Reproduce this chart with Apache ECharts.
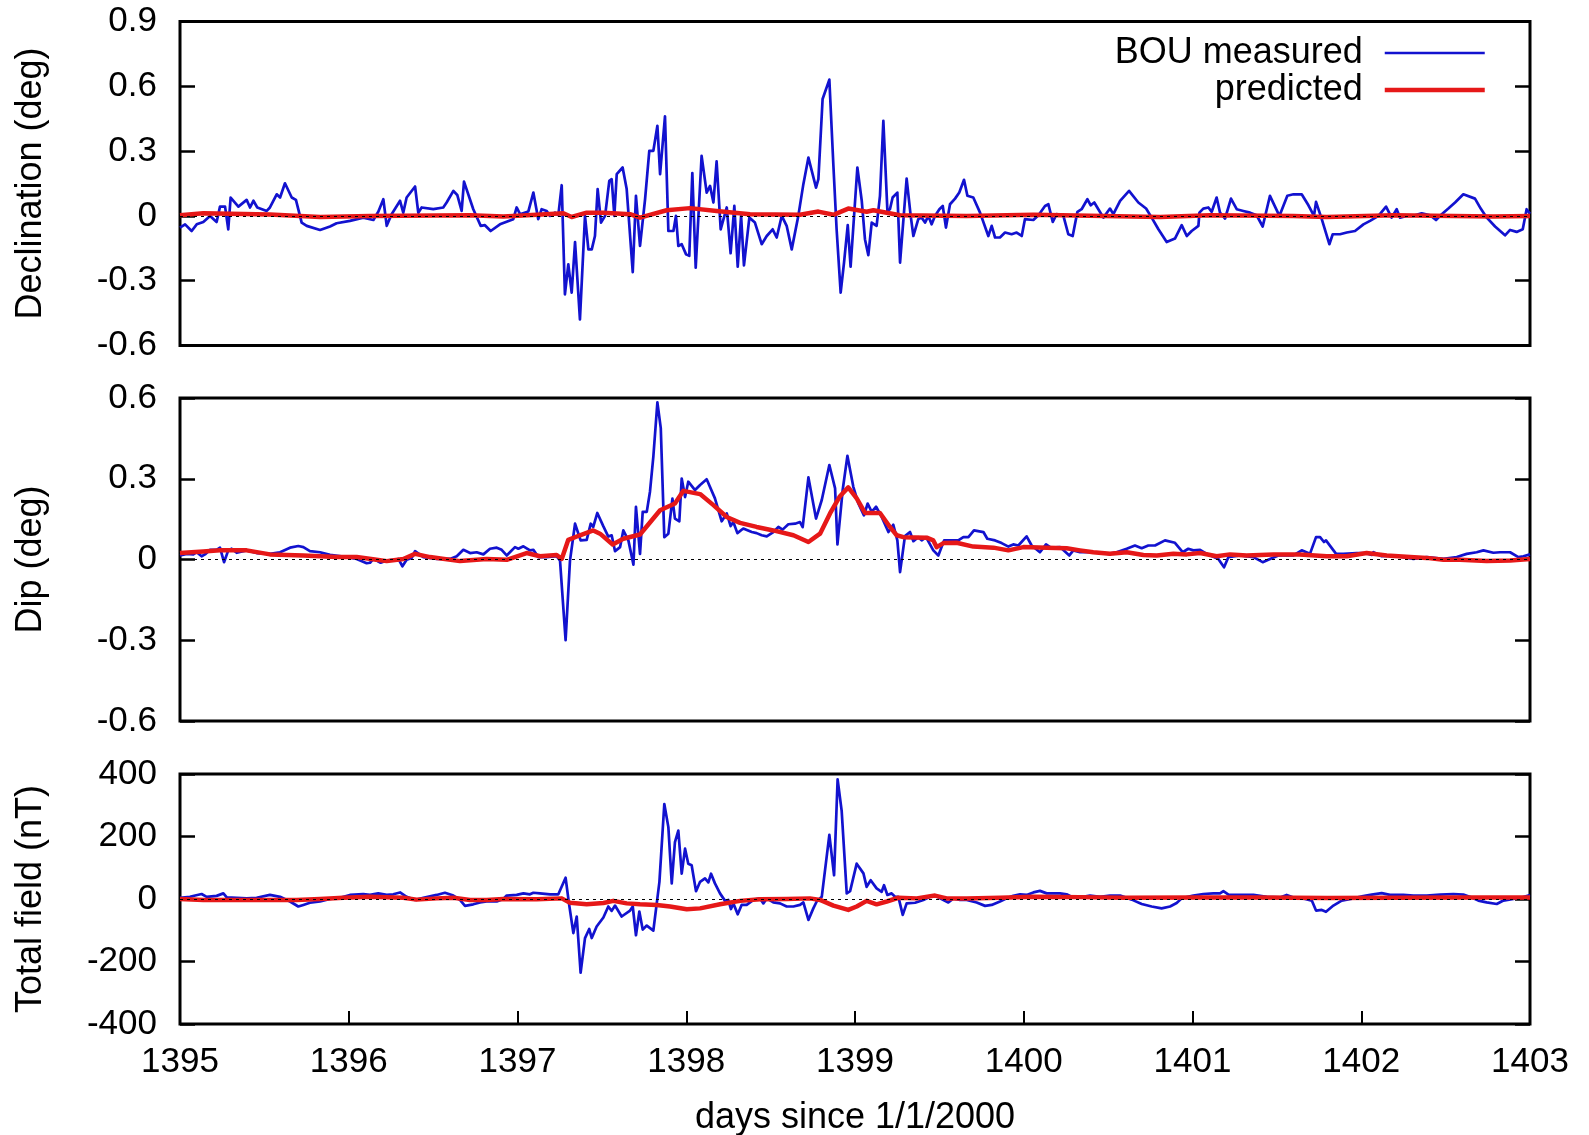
<!DOCTYPE html>
<html><head><meta charset="utf-8">
<script src="https://cdn.jsdelivr.net/npm/echarts@6/dist/echarts.min.js"></script>
<style>html,body{margin:0;padding:0;background:#fff}#chart{width:1589px;height:1135px}</style>
</head><body><div id="chart"></div>
<script>
// ---------- tick labels ----------
const dayTicks = [1395,1396,1397,1398,1399,1400,1401,1402,1403];
const declTicks = [-0.6,-0.3,0,0.3,0.6,0.9];
const dipTicks = [-0.6,-0.3,0,0.3,0.6];
const totalTicks = [-400,-200,0,200,400];

// ---------- names ----------
const seriesNames = ['BOU measured','predicted'];
const panelTitles = ['Declination (deg)','Dip (deg)','Total field (nT)'];
const xTitle = 'days since 1/1/2000';

// ---------- data: [day, value] ----------
const declMeasured = [[1395.000,-0.054],[1395.030,-0.039],[1395.069,-0.070],[1395.099,-0.039],[1395.138,-0.028],[1395.178,0],[1395.217,-0.028],[1395.237,0.043],[1395.267,0.043],[1395.286,-0.062],[1395.300,0.085],[1395.346,0.043],[1395.395,0.074],[1395.415,0.039],[1395.435,0.070],[1395.458,0.039],[1395.514,0.023],[1395.533,0.039],[1395.573,0.100],[1395.593,0.085],[1395.622,0.151],[1395.662,0.085],[1395.687,0.074],[1395.721,-0.031],[1395.751,-0.046],[1395.830,-0.065],[1395.889,-0.049],[1395.928,-0.034],[1396.007,-0.023],[1396.086,-0.008],[1396.146,-0.019],[1396.175,0.019],[1396.205,0.077],[1396.225,-0.046],[1396.254,0.008],[1396.304,0.070],[1396.323,0.015],[1396.343,0.085],[1396.393,0.136],[1396.412,0.015],[1396.432,0.039],[1396.501,0.031],[1396.560,0.039],[1396.580,0.062],[1396.620,0.116],[1396.643,0.097],[1396.669,0.023],[1396.683,0.159],[1396.738,0.031],[1396.782,-0.046],[1396.807,-0.043],[1396.841,-0.070],[1396.896,-0.039],[1396.975,-0.015],[1396.995,0.039],[1397.015,0.008],[1397.064,0.020],[1397.094,0.108],[1397.123,-0.015],[1397.143,0.031],[1397.173,0.023],[1397.193,0],[1397.222,0.015],[1397.242,0.003],[1397.262,0.142],[1397.281,-0.363],[1397.301,-0.224],[1397.321,-0.355],[1397.341,-0.121],[1397.370,-0.479],[1397.400,0],[1397.420,-0.155],[1397.440,-0.155],[1397.459,-0.093],[1397.475,0.124],[1397.495,-0.031],[1397.519,0],[1397.544,0.162],[1397.558,0.170],[1397.574,0],[1397.588,0.193],[1397.623,0.224],
[1397.647,0.124],[1397.683,-0.260],[1397.702,0.093],[1397.726,-0.139],[1397.756,0.077],[1397.781,0.301],[1397.805,0.301],[1397.829,0.417],[1397.845,0.193],[1397.874,0.461],[1397.894,-0.070],[1397.924,-0.070],[1397.939,0],[1397.953,-0.139],[1397.973,-0.131],[1397.999,-0.178],[1398.018,-0.185],[1398.036,0.198],[1398.056,-0.240],[1398.091,0.278],[1398.121,0.108],[1398.141,0.139],[1398.161,0.062],[1398.180,0.252],[1398.204,-0.062],[1398.240,0.039],[1398.263,-0.173],[1398.285,0.046],[1398.305,-0.235],[1398.325,0],[1398.342,-0.229],[1398.374,-0.008],[1398.407,-0.031],[1398.447,-0.131],[1398.477,-0.093],[1398.512,-0.062],[1398.536,-0.100],[1398.566,0],[1398.595,-0.046],[1398.625,-0.155],[1398.664,0],[1398.694,0.147],[1398.724,0.270],[1398.769,0.131],[1398.783,0.170],[1398.808,0.541],[1398.848,0.631],[1398.872,0.232],[1398.891,-0.062],[1398.915,-0.355],[1398.935,-0.216],[1398.957,-0.043],[1398.974,-0.235],[1399.014,0.224],[1399.040,0.070],[1399.059,-0.108],[1399.079,-0.182],[1399.099,-0.031],[1399.128,-0.046],[1399.148,0.093],[1399.168,0.440],[1399.192,0.023],[1399.207,0.031],[1399.223,0.085],[1399.251,0.108],[1399.267,-0.216],[1399.306,0.173],[1399.330,0],[1399.346,-0.093],[1399.375,-0.015],[1399.395,-0.008],[1399.415,-0.031],[1399.435,0],[1399.454,-0.039],[1399.474,0],[1399.500,0.031],[1399.520,0.046],[1399.539,-0.054],[1399.563,0.054],[1399.593,0.080],[1399.618,0.108],[1399.646,0.167],[1399.666,0.093],[1399.701,0.085],[1399.741,0.015],[1399.790,-0.093],[1399.810,-0.046],[1399.830,-0.100],[1399.859,-0.100],[1399.889,-0.077],[1399.928,-0.085],[1399.958,-0.077],[1399.988,-0.093],[1400.007,-0.015],[1400.057,-0.019],[1400.087,0.003],[1400.126,0.046],[1400.146,0.054],[1400.172,-0.028],[1400.195,0.008],[1400.235,0],[1400.264,-0.085],[1400.290,-0.093],[1400.318,0.019],
[1400.343,0.031],[1400.377,0.077],[1400.397,0.049],[1400.418,0.062],[1400.442,0.031],[1400.472,-0.008],[1400.511,0.034],[1400.531,0.008],[1400.571,0.070],[1400.624,0.116],[1400.679,0.062],[1400.725,0.034],[1400.758,-0.008],[1400.798,-0.062],[1400.847,-0.121],[1400.896,-0.105],[1400.936,-0.043],[1400.966,-0.093],[1400.995,-0.070],[1401.035,-0.046],[1401.041,0.015],[1401.064,0.034],[1401.094,0.039],[1401.114,0.019],[1401.143,0.085],[1401.163,0.015],[1401.193,-0.012],[1401.228,0.080],[1401.262,0.031],[1401.301,0.023],[1401.341,0.015],[1401.380,0.003],[1401.416,-0.049],[1401.459,0.093],[1401.515,0],[1401.562,0.093],[1401.598,0.100],[1401.647,0.100],[1401.687,0.049],[1401.720,0],[1401.732,0.065],[1401.766,-0.015],[1401.811,-0.131],[1401.831,-0.085],[1401.874,-0.085],[1401.914,-0.077],[1401.963,-0.070],[1402.013,-0.039],[1402.052,-0.023],[1402.102,0],[1402.147,0.043],[1402.180,-0.008],[1402.210,0.031],[1402.230,-0.008],[1402.269,0],[1402.309,0],[1402.358,0.012],[1402.408,0.003],[1402.443,-0.019],[1402.477,0.008],[1402.516,0.034],[1402.556,0.062],[1402.605,0.100],[1402.674,0.080],[1402.708,0.034],[1402.744,-0.008],[1402.793,-0.049],[1402.852,-0.090],[1402.882,-0.065],[1402.921,-0.074],[1402.957,-0.062],[1402.980,0.031],[1403.000,0.010]];

const declPredicted = [[1395.000,0.003],[1395.138,0.012],[1395.533,0.006],[1395.830,-0.005],[1396.126,0.0],[1396.719,0.003],[1396.916,-0.003],[1397.114,0.005],[1397.272,0.012],[1397.321,-0.005],[1397.410,0.015],[1397.509,0.015],[1397.667,0.008],[1397.726,-0.008],[1397.884,0.026],[1398.022,0.036],[1398.180,0.023],[1398.378,0.008],[1398.674,0.005],[1398.783,0.020],[1398.872,0.005],[1398.960,0.034],[1399.069,0.019],[1399.109,0.026],[1399.267,0.003],[1399.662,0.0],[1400.057,0.005],[1400.808,-0.005],[1401.104,0.003],[1401.598,0.0],[1401.795,-0.005],[1402.190,0.003],[1402.783,-0.003],[1403.000,0.0]];

const dipMeasured = [[1395.000,0.015],[1395.040,0.021],[1395.079,0.019],[1395.099,0.027],[1395.128,0.012],[1395.148,0.019],[1395.178,0.036],[1395.217,0.036],[1395.237,0.044],[1395.261,-0.010],[1395.286,0.034],[1395.306,0.040],[1395.336,0.025],[1395.395,0.034],[1395.454,0.024],[1395.533,0.021],[1395.593,0.027],[1395.652,0.044],[1395.701,0.050],[1395.731,0.046],[1395.770,0.031],[1395.830,0.027],[1395.889,0.017],[1395.968,0.011],[1396.047,0.002],[1396.106,-0.014],[1396.126,-0.012],[1396.146,0.002],[1396.165,-0.004],[1396.189,-0.012],[1396.225,-0.004],[1396.264,-0.001],[1396.294,0.002],[1396.318,-0.025],[1396.343,-0.001],[1396.373,0.006],[1396.393,0.031],[1396.442,0.009],[1396.521,0.002],[1396.600,0.002],[1396.640,0.012],[1396.679,0.036],[1396.719,0.024],[1396.758,0.027],[1396.798,0.019],[1396.837,0.040],[1396.877,0.044],[1396.906,0.036],[1396.936,0.015],[1396.985,0.046],[1397.005,0.040],[1397.035,0.049],[1397.074,0.034],[1397.094,0.036],[1397.123,0.009],[1397.173,0.009],[1397.232,0.012],[1397.252,-0.004],[1397.285,-0.300],[1397.311,-0.004],[1397.341,0.133],[1397.374,0.071],[1397.410,0.073],[1397.434,0.133],[1397.449,0.121],[1397.473,0.173],[1397.509,0.123],[1397.538,0.085],[1397.558,0.090],[1397.578,0.031],[1397.608,0.046],[1397.627,0.108],[1397.657,0.071],[1397.687,-0.019],[1397.702,0.196],[1397.726,0.021],[1397.742,0.177],[1397.766,0.177],[1397.785,0.252],[1397.805,0.382],[1397.829,0.584],[1397.849,0.488],[1397.870,0.083],[1397.894,0.096],[1397.918,0.226],[1397.933,0.152],[1397.959,0.142],[1397.973,0.301],[1397.993,0.232],[1398.012,0.289],[1398.052,0.258],[1398.082,0.277],[1398.121,0.298],[1398.170,0.227],[1398.210,0.142],[1398.240,0.171],[1398.263,0.124],[1398.279,0.139],[1398.303,0.098],[1398.338,0.115],[1398.388,0.102],[1398.417,0.098],[1398.447,0.090],[1398.477,0.086],[1398.516,0.102],[1398.546,0.121],[1398.571,0.111],[1398.605,0.131],[1398.645,0.133],[1398.674,0.139],[1398.690,0.120],[1398.724,0.305],[1398.769,0.152],[1398.803,0.221],[1398.848,0.351],[1398.882,0.264],[1398.896,0.056],[1398.927,0.258],[1398.955,0.385],[1398.990,0.270],[1399.020,0.208],[1399.053,0.164],[1399.075,0.208],[1399.099,0.177],[1399.125,0.196],[1399.158,0.158],[1399.198,0.102],[1399.227,0.129],[1399.251,0.071],[1399.267,-0.047],[1399.296,0.087],[1399.326,0.102],[1399.346,0.068],[1399.375,0.083],[1399.395,0.071],[1399.421,0.083],[1399.464,0.034],[1399.494,0.015],[1399.528,0.071],[1399.573,0.071],[1399.612,0.071],[1399.642,0.083],[1399.672,0.083],[1399.705,0.108],[1399.761,0.102],[1399.784,0.077],[1399.830,0.071],[1399.869,0.061],[1399.909,0.048],[1399.938,0.056],[1399.968,0.052],[1400.017,0.086],[1400.047,0.052],[1400.096,0.027],[1400.132,0.056],[1400.160,0.044],[1400.215,0.046],[1400.270,0.015],[1400.294,0.034],[1400.334,0.027],[1400.393,0.027],[1400.452,0.027],[1400.501,0.021],[1400.551,0.027],[1400.610,0.040],[1400.659,0.052],[1400.699,0.042],[1400.738,0.052],[1400.778,0.052],[1400.837,0.071],[1400.896,0.062],[1400.942,0.027],[1400.975,0.040],[1401.005,0.034],[1401.045,0.036],[1401.084,0.021],[1401.153,0.002],[1401.187,-0.029],[1401.213,0.009],[1401.282,0.015],[1401.361,0.009],[1401.416,-0.010],[1401.459,0.002],[1401.509,0.015],[1401.598,0.015],[1401.647,0.034],[1401.696,0.021],[1401.732,0.083],[1401.756,0.083],[1401.779,0.065],[1401.791,0.071],[1401.851,0.021],[1401.894,0.021],[1401.973,0.024],[1402.022,0.024],[1402.062,0.017],[1402.072,0.027],[1402.121,0.012],[1402.190,0.015],[1402.250,0.009],[1402.309,0.002],[1402.388,0.009],[1402.487,0.002],[1402.566,0.009],[1402.625,0.021],[1402.684,0.027],[1402.724,0.034],[1402.783,0.025],[1402.822,0.027],[1402.882,0.027],[1402.931,0.009],[1402.961,0.012],[1403.000,0.019]];

const dipPredicted = [[1395.000,0.024],[1395.138,0.030],[1395.237,0.034],[1395.395,0.034],[1395.533,0.019],[1395.731,0.015],[1395.929,0.009],[1396.047,0.009],[1396.165,-0.001],[1396.225,-0.006],[1396.323,0.002],[1396.393,0.021],[1396.482,0.009],[1396.659,-0.006],[1396.817,0.002],[1396.936,-0.001],[1397.054,0.024],[1397.133,0.012],[1397.232,0.017],[1397.262,0.002],[1397.301,0.073],[1397.370,0.090],[1397.449,0.108],[1397.489,0.096],[1397.564,0.056],[1397.627,0.077],[1397.726,0.093],[1397.845,0.183],[1397.933,0.208],[1397.983,0.255],[1398.082,0.243],[1398.161,0.202],[1398.240,0.158],[1398.319,0.136],[1398.417,0.121],[1398.516,0.108],[1398.635,0.090],[1398.724,0.065],[1398.793,0.096],[1398.852,0.171],[1398.911,0.235],[1398.960,0.268],[1399.010,0.227],[1399.059,0.173],[1399.148,0.173],[1399.207,0.121],[1399.247,0.090],[1399.287,0.083],[1399.425,0.081],[1399.464,0.071],[1399.484,0.046],[1399.524,0.061],[1399.602,0.062],[1399.701,0.048],[1399.820,0.044],[1399.909,0.034],[1399.998,0.046],[1400.136,0.044],[1400.254,0.042],[1400.333,0.034],[1400.412,0.027],[1400.511,0.021],[1400.610,0.027],[1400.709,0.017],[1400.788,0.015],[1400.887,0.021],[1400.966,0.019],[1401.045,0.024],[1401.143,0.012],[1401.222,0.019],[1401.321,0.015],[1401.479,0.019],[1401.637,0.019],[1401.795,0.012],[1401.914,0.012],[1402.032,0.024],[1402.151,0.015],[1402.289,0.009],[1402.388,0.006],[1402.487,-0.001],[1402.585,-0.001],[1402.743,-0.006],[1402.882,-0.004],[1403.000,0.002]];

const totalMeasured = [[1395.000,4],[1395.059,7],[1395.128,16],[1395.158,7],[1395.217,10],[1395.257,18],[1395.277,5],[1395.336,4],[1395.395,2],[1395.454,4],[1395.533,13],[1395.593,7],[1395.652,-8],[1395.701,-24],[1395.731,-19],[1395.770,-12],[1395.830,-8],[1395.889,0],[1395.948,4],[1396.007,13],[1396.086,16],[1396.126,13],[1396.175,18],[1396.225,13],[1396.264,15],[1396.304,21],[1396.343,7],[1396.393,-3],[1396.442,4],[1396.521,13],[1396.570,20],[1396.620,11],[1396.659,-3],[1396.689,-22],[1396.738,-17],[1396.778,-11],[1396.817,-8],[1396.877,-8],[1396.916,0],[1396.936,11],[1396.995,13],[1397.035,18],[1397.074,15],[1397.094,20],[1397.133,18],[1397.193,15],[1397.242,15],[1397.285,68],[1397.305,-14],[1397.331,-109],[1397.351,-56],[1397.374,-236],[1397.400,-125],[1397.425,-96],[1397.440,-125],[1397.469,-88],[1397.509,-59],[1397.538,-24],[1397.558,-38],[1397.578,-21],[1397.617,-56],[1397.667,-37],[1397.683,-24],[1397.702,-116],[1397.722,-40],[1397.742,-98],[1397.766,-85],[1397.805,-101],[1397.841,55],[1397.870,304],[1397.894,230],[1397.914,50],[1397.933,182],[1397.953,219],[1397.973,81],[1397.993,161],[1398.012,113],[1398.032,108],[1398.058,25],[1398.082,55],[1398.111,66],[1398.131,53],[1398.147,81],[1398.170,50],[1398.200,18],[1398.230,-6],[1398.249,-3],[1398.265,-32],[1398.279,-14],[1398.305,-49],[1398.328,-19],[1398.358,-19],[1398.398,-3],[1398.437,2],[1398.457,-14],[1398.477,2],[1398.516,-11],[1398.556,-14],[1398.595,-24],[1398.635,-24],[1398.674,-19],[1398.694,-11],[1398.724,-67],[1398.753,-30],[1398.773,-8],[1398.803,7],[1398.848,205],[1398.876,76],[1398.897,383],[1398.921,282],[1398.951,18],[1398.971,25],[1399.010,113],[1399.050,82],[1399.069,39],[1399.093,60],[1399.128,34],[1399.158,23],[1399.172,44],[1399.192,13],[1399.217,18],[1399.237,7],[1399.257,7],[1399.283,-51],[1399.306,-14],[1399.356,-12],[1399.405,-3],[1399.445,7],[1399.474,11],[1399.504,2],[1399.553,-11],[1399.583,2],[1399.622,-3],[1399.662,-3],[1399.721,-11],[1399.771,-22],[1399.810,-19],[1399.859,-8],[1399.899,2],[1399.938,10],[1399.978,15],[1400.017,13],[1400.057,21],[1400.096,26],[1400.136,18],[1400.176,18],[1400.215,18],[1400.254,15],[1400.294,4],[1400.334,5],[1400.393,11],[1400.452,7],[1400.511,11],[1400.571,11],[1400.640,-2],[1400.699,-16],[1400.758,-24],[1400.817,-30],[1400.867,-24],[1400.906,-13],[1400.936,2],[1401.005,11],[1401.064,16],[1401.124,18],[1401.163,18],[1401.183,25],[1401.213,14],[1401.282,13],[1401.361,13],[1401.440,7],[1401.519,5],[1401.558,13],[1401.598,5],[1401.667,0],[1401.707,-5],[1401.732,-37],[1401.766,-35],[1401.791,-41],[1401.835,-21],[1401.884,-5],[1401.953,2],[1402.012,9],[1402.062,14],[1402.121,19],[1402.170,13],[1402.249,13],[1402.309,11],[1402.388,11],[1402.467,14],[1402.546,16],[1402.605,14],[1402.655,5],[1402.694,-5],[1402.743,-11],[1402.803,-16],[1402.842,-5],[1402.901,0],[1402.951,5],[1403.000,13]];

const totalPredicted = [[1395.000,0],[1395.138,-3],[1395.336,-3],[1395.533,-3],[1395.691,-3],[1395.830,0],[1395.968,4],[1396.126,7],[1396.323,4],[1396.402,-2],[1396.521,2],[1396.620,4],[1396.719,-3],[1396.817,-3],[1396.916,0],[1397.114,-1],[1397.262,2],[1397.311,-12],[1397.410,-17],[1397.509,-13],[1397.568,-6],[1397.647,-14],[1397.726,-17],[1397.825,-19],[1397.904,-24],[1398.003,-33],[1398.082,-30],[1398.200,-17],[1398.319,-6],[1398.437,-1],[1398.595,0],[1398.733,2],[1398.793,-3],[1398.872,-21],[1398.960,-35],[1399.010,-24],[1399.069,-6],[1399.128,-17],[1399.188,-8],[1399.257,4],[1399.366,2],[1399.474,11],[1399.543,2],[1399.662,2],[1399.859,4],[1400.057,7],[1400.333,6],[1400.600,4],[1401.000,5],[1401.400,5],[1401.800,3],[1402.200,4],[1402.600,5],[1403.000,5]];

// ---------- styling ----------
const FONT = '"Liberation Sans", Arial, Helvetica, sans-serif';
const BLUE = '#1212cf';
const RED = '#e61818';
const BLUE_W = 2.7;
const RED_W = 4.5;
const TICK_FS = 35;
const TITLE_FS = 36;
const grids = [
  {top: 21.5, height: 324},
  {top: 398, height: 323},
  {top: 774, height: 250}
];
const yTickSets = [declTicks, dipTicks, totalTicks];

function xAxisFor(i) {
  const last = i === 2;
  return {
    type: 'value', gridIndex: i,
    min: dayTicks[0], max: dayTicks[dayTicks.length - 1], interval: dayTicks[1] - dayTicks[0],
    axisLine: {show: false, onZero: false},
    axisTick: {show: last, inside: true, length: 13, lineStyle: {color: '#000', width: 2}},
    axisLabel: {show: last, color: '#000', fontSize: TICK_FS, fontFamily: FONT, margin: 21,
                formatter: v => String(v)},
    splitLine: {show: false},
    name: last ? xTitle : '', nameLocation: 'middle', nameGap: 76,
    nameTextStyle: {color: '#000', fontSize: TITLE_FS, fontFamily: FONT}
  };
}
function yAxisFor(i, right) {
  const t = yTickSets[i];
  return {
    type: 'value', gridIndex: i, position: right ? 'right' : 'left',
    min: t[0], max: t[t.length - 1], interval: t[1] - t[0],
    axisLine: {show: false, onZero: false},
    axisTick: {show: true, inside: true, length: 15, lineStyle: {color: '#000', width: 2.5}},
    axisLabel: {show: !right, color: '#000', fontSize: TICK_FS, fontFamily: FONT, margin: 23},
    splitLine: {show: false},
    name: right ? '' : panelTitles[i], nameLocation: 'middle', nameGap: 131,
    nameTextStyle: {color: '#000', fontSize: TITLE_FS, fontFamily: FONT}
  };
}
function lineSeries(name, data, gi, color, width, z, zeroLine) {
  const s = {
    name, type: 'line', xAxisIndex: gi, yAxisIndex: gi * 2, data,
    symbol: 'none', showSymbol: false, smooth: false,
    lineStyle: {color, width, join: 'round'}, itemStyle: {color},
    z, animation: false
  };
  if (zeroLine) {
    s.markLine = {
      silent: true, symbol: 'none', animation: false,
      label: {show: false},
      lineStyle: {color: '#000', type: [3, 4], width: 1.2},
      data: [{yAxis: 0}]
    };
  }
  return s;
}

const option = {
  backgroundColor: '#fff',
  animation: false,
  grid: grids.map(g => ({
    left: 180, right: 59, top: g.top, height: g.height,
    show: true, borderColor: '#000', borderWidth: 3, backgroundColor: 'transparent',
    containLabel: false, outerBoundsMode: 'none'
  })),
  xAxis: [0, 1, 2].map(xAxisFor),
  yAxis: [yAxisFor(0,false), yAxisFor(0,true), yAxisFor(1,false), yAxisFor(1,true), yAxisFor(2,false), yAxisFor(2,true)],
  legend: {
    data: [
      {name: seriesNames[0], lineStyle: {width: BLUE_W, color: BLUE}},
      {name: seriesNames[1], lineStyle: {width: RED_W, color: RED}}
    ],
    orient: 'vertical', align: 'right',
    right: 102, top: 35, padding: 0,
    itemWidth: 100, itemHeight: 36, itemGap: 1,
    selectedMode: false,
    itemStyle: {opacity: 0},
    textStyle: {color: '#000', fontSize: TITLE_FS, fontFamily: FONT, padding: [0, 17, 0, 0]}
  },
  series: [
    lineSeries(seriesNames[0], declMeasured, 0, BLUE, BLUE_W, 2, true),
    lineSeries(seriesNames[1], declPredicted, 0, RED, RED_W, 3, false),
    lineSeries(seriesNames[0], dipMeasured, 1, BLUE, BLUE_W, 2, true),
    lineSeries(seriesNames[1], dipPredicted, 1, RED, RED_W, 3, false),
    lineSeries(seriesNames[0], totalMeasured, 2, BLUE, BLUE_W, 2, true),
    lineSeries(seriesNames[1], totalPredicted, 2, RED, RED_W, 3, false)
  ]
};
const chart = echarts.init(document.getElementById('chart'), null, {renderer: 'canvas'});
chart.setOption(option);
</script>
</body></html>
